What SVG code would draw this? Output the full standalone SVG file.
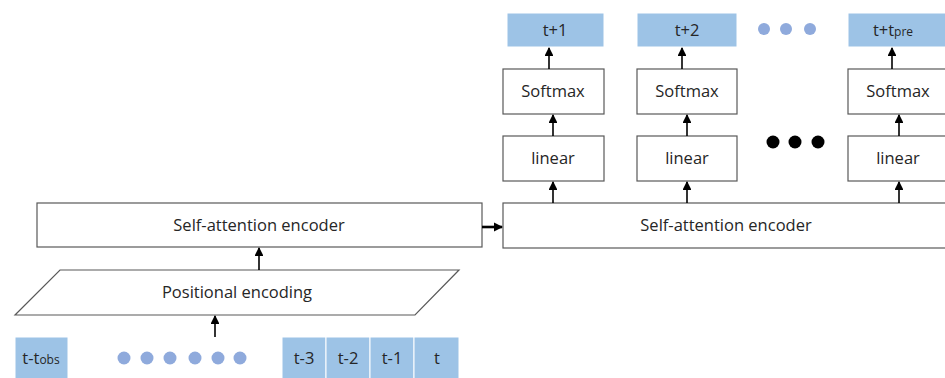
<svg xmlns="http://www.w3.org/2000/svg" width="945" height="378" viewBox="0 0 945 378">
<defs>
<style>
.box{fill:#ffffff;stroke:#595959;stroke-width:1.2}
.blue{fill:#9DC3E6;stroke:#ffffff;stroke-width:1}
.lbl{font-family:"Open Sans","Liberation Sans",sans-serif;font-size:16.5px;fill:#262626;text-anchor:middle}
.sm{font-size:12px}
.edge{stroke:#000;stroke-width:1.6;fill:none;marker-end:url(#ah)}
.bold{stroke-width:2.6;marker-end:url(#ah2)}
.bdot{fill:#8FAADC}
.kdot{fill:#000}
</style>
<marker id="ah" viewBox="0 0 10 10" refX="9" refY="5" markerWidth="5.5" markerHeight="5.5" orient="auto" markerUnits="strokeWidth">
<path d="M0,0 L10,5 L0,10 z" fill="#000"/>
</marker>
<marker id="ah2" viewBox="0 0 10 10" refX="9" refY="5" markerWidth="3.6" markerHeight="3.6" orient="auto" markerUnits="strokeWidth">
<path d="M0,0 L10,5 L0,10 z" fill="#000"/>
</marker>
</defs>
<rect width="945" height="378" fill="#ffffff"/>

<g id="encoder1"><rect class="box" x="37" y="203" width="445" height="44"/><text class="lbl" x="259" y="231">Self-attention encoder</text></g>
<g id="encoder2"><rect class="box" x="503" y="203" width="450" height="45"/><text class="lbl" x="726" y="231">Self-attention encoder</text></g>
<g id="posenc"><polygon class="box" points="60,270 459,270 415,315 15,315"/><text class="lbl" x="237" y="298">Positional encoding</text></g>

<g id="in-tobs"><rect class="blue" x="15" y="337" width="53" height="45"/><text class="lbl" x="41" y="364">t-t<tspan class="sm">obs</tspan></text></g>
<g id="in-dots">
<circle class="bdot" cx="124" cy="358" r="6.5"/><circle class="bdot" cx="147" cy="358" r="6.5"/><circle class="bdot" cx="170" cy="358" r="6.5"/><circle class="bdot" cx="195" cy="358" r="6.5"/><circle class="bdot" cx="218" cy="358" r="6.5"/><circle class="bdot" cx="240" cy="358" r="6.5"/>
</g>
<g id="in-t3"><rect class="blue" x="282" y="337" width="44" height="45"/><text class="lbl" x="304" y="364">t-3</text></g>
<g id="in-t2"><rect class="blue" x="326" y="337" width="44" height="45"/><text class="lbl" x="348" y="364">t-2</text></g>
<g id="in-t1"><rect class="blue" x="370" y="337" width="44" height="45"/><text class="lbl" x="392" y="364">t-1</text></g>
<g id="in-t"><rect class="blue" x="414" y="337" width="45" height="45"/><text class="lbl" x="437" y="364">t</text></g>

<g id="lin1"><rect class="box" x="503" y="136" width="101" height="45"/><text class="lbl" x="553" y="164">linear</text></g>
<g id="lin2"><rect class="box" x="637" y="136" width="100" height="45"/><text class="lbl" x="687" y="164">linear</text></g>
<g id="lin3"><rect class="box" x="848" y="136" width="100" height="45"/><text class="lbl" x="898" y="164">linear</text></g>

<g id="soft1"><rect class="box" x="503" y="69" width="101" height="45"/><text class="lbl" x="553" y="97">Softmax</text></g>
<g id="soft2"><rect class="box" x="637" y="69" width="100" height="45"/><text class="lbl" x="687" y="97">Softmax</text></g>
<g id="soft3"><rect class="box" x="848" y="69" width="100" height="45"/><text class="lbl" x="898" y="97">Softmax</text></g>

<g id="out1"><rect class="blue" x="507" y="13" width="97" height="34"/><text class="lbl" x="555" y="36">t+1</text></g>
<g id="out2"><rect class="blue" x="637" y="13" width="100" height="34"/><text class="lbl" x="687" y="36">t+2</text></g>
<g id="out3"><rect class="blue" x="848" y="13" width="100" height="34"/><text class="lbl" x="893" y="36">t+t<tspan class="sm">pre</tspan></text></g>

<g id="out-dots"><circle class="bdot" cx="764" cy="29" r="6"/><circle class="bdot" cx="786" cy="29" r="6"/><circle class="bdot" cx="810" cy="29" r="6"/></g>
<g id="mid-dots"><circle class="kdot" cx="773" cy="142" r="6.5"/><circle class="kdot" cx="795" cy="142" r="6.5"/><circle class="kdot" cx="818" cy="142" r="6.5"/></g>

<g id="connectors">
<line class="edge" x1="215" y1="337" x2="215" y2="316"/>
<line class="edge" x1="259" y1="270" x2="259" y2="248"/>
<line class="edge bold" x1="482" y1="227" x2="502" y2="227"/>
<line class="edge" x1="553" y1="203" x2="553" y2="182"/>
<line class="edge" x1="687" y1="203" x2="687" y2="182"/>
<line class="edge" x1="899" y1="203" x2="899" y2="182"/>
<line class="edge" x1="553" y1="136" x2="553" y2="115"/>
<line class="edge" x1="687" y1="136" x2="687" y2="115"/>
<line class="edge" x1="899" y1="136" x2="899" y2="115"/>
<line class="edge" x1="549" y1="69" x2="549" y2="48"/>
<line class="edge" x1="682" y1="69" x2="682" y2="48"/>
<line class="edge" x1="892" y1="69" x2="892" y2="48"/>
</g>
</svg>
